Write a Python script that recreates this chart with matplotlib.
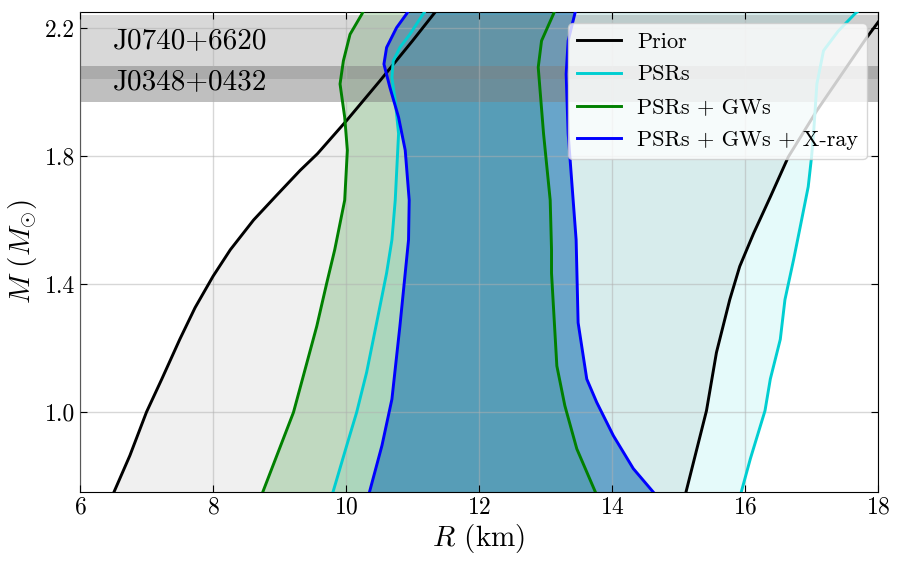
import numpy as np
import matplotlib
matplotlib.use("Agg")
import matplotlib.pyplot as plt

plt.rcParams["font.family"] = "serif"
plt.rcParams["font.serif"] = ["cmr10"]
plt.rcParams["mathtext.fontset"] = "cm"
plt.rcParams["axes.formatter.use_mathtext"] = True
plt.rcParams["axes.unicode_minus"] = False

# --- contours: mass (Msun) vs radius (km) ---
prior_l_m = [0.74, 0.864, 1.0, 1.103, 1.227, 1.326, 1.424, 1.507, 1.60, 1.678, 1.755, 1.807, 1.911, 2.035, 2.16, 2.26]
prior_l_r = [6.49, 6.75, 7.0, 7.23, 7.5, 7.73, 8.0, 8.26, 8.61, 8.96, 9.31, 9.57, 10.01, 10.51, 11.0, 11.38]
prior_r_m = [0.74, 1.004, 1.186, 1.351, 1.455, 1.559, 1.672, 1.797, 1.942, 2.17, 2.26]
prior_r_r = [15.10, 15.42, 15.57, 15.77, 15.92, 16.13, 16.38, 16.65, 17.08, 17.83, 18.15]

psr_l_m = [0.74, 0.895, 0.999, 1.124, 1.33, 1.434, 1.538, 1.662, 1.87, 1.973, 2.045, 2.097, 2.139, 2.18, 2.244, 2.27]
psr_l_r = [9.79, 10.01, 10.16, 10.31, 10.51, 10.61, 10.69, 10.74, 10.79, 10.74, 10.69, 10.71, 10.81, 10.96, 11.16, 11.25]
psr_r_m = [0.74, 0.854, 1.004, 1.103, 1.227, 1.351, 1.476, 1.579, 1.704, 1.797, 1.87, 2.025, 2.129, 2.19, 2.244, 2.27]
psr_r_r = [15.93, 16.08, 16.30, 16.38, 16.53, 16.60, 16.73, 16.83, 16.95, 17.0, 17.03, 17.08, 17.18, 17.4, 17.65, 17.8]

gw_l_m = [0.74, 0.999, 1.268, 1.403, 1.507, 1.662, 1.818, 1.921, 2.025, 2.097, 2.18, 2.244, 2.27]
gw_l_r = [8.73, 9.21, 9.56, 9.71, 9.83, 9.98, 10.02, 9.98, 9.91, 9.96, 10.06, 10.24, 10.3]
gw_r_m = [0.74, 0.885, 1.02, 1.144, 1.434, 1.507, 1.662, 1.87, 2.077, 2.16, 2.244, 2.27]
gw_r_r = [13.77, 13.47, 13.29, 13.17, 13.09, 13.09, 13.07, 12.97, 12.89, 12.94, 13.12, 13.17]

xr_l_m = [0.74, 0.895, 1.04, 1.268, 1.434, 1.538, 1.662, 1.818, 1.921, 2.014, 2.087, 2.139, 2.201, 2.244, 2.27]
xr_l_r = [10.34, 10.54, 10.69, 10.81, 10.89, 10.94, 10.95, 10.89, 10.79, 10.66, 10.57, 10.61, 10.76, 10.91, 10.98]
xr_r_m = [0.74, 0.823, 0.926, 1.03, 1.103, 1.279, 1.538, 1.87, 2.056, 2.16, 2.244, 2.27]
xr_r_r = [14.66, 14.32, 14.02, 13.77, 13.62, 13.49, 13.46, 13.34, 13.31, 13.34, 13.44, 13.47]

# pulsar mass bands
j0740_band = (2.04, 2.24)
j0348_band = (1.97, 2.08)

sets = [
    ("Prior", prior_l_r, prior_l_m, prior_r_r, prior_r_m, "k", "k", 0.06),
    ("PSRs", psr_l_r, psr_l_m, psr_r_r, psr_r_m, "darkturquoise", "darkturquoise", 0.1),
    ("PSRs + GWs", gw_l_r, gw_l_m, gw_r_r, gw_r_m, "green", "green", 0.2),
    ("PSRs + GWs + X-ray", xr_l_r, xr_l_m, xr_r_r, xr_r_m, "blue", "C0", 0.6),
]

fig, ax = plt.subplots(figsize=(8.99, 5.65), dpi=100)
fig.subplots_adjust(left=0.089, right=0.9767, top=0.9788, bottom=0.1292)

for label, lr, lm, rr, rm, lc, fc, a in sets:
    poly_r = np.concatenate([lr, rr[::-1]])
    poly_m = np.concatenate([lm, rm[::-1]])
    ax.fill(poly_r, poly_m, color=fc, alpha=a, lw=0, zorder=1)

ax.axhspan(*j0740_band, color="grey", alpha=0.3, lw=0, zorder=2)
ax.axhspan(*j0348_band, color="grey", alpha=0.5, lw=0, zorder=2)

for label, lr, lm, rr, rm, lc, fc, a in sets:
    ax.plot(lr, lm, color=lc, lw=2.1, label=label, zorder=3)
    ax.plot(rr, rm, color=lc, lw=2.1, zorder=3)

ax.text(6.5, 2.16, "J0740+6620", fontsize=21, va="center", zorder=4)
ax.text(6.5, 2.03, "J0348+0432", fontsize=21, va="center", zorder=4)

ax.set_xlim(6, 18)
ax.set_ylim(0.75, 2.25)
ax.set_xticks([6, 8, 10, 12, 14, 16, 18])
ax.set_yticks([1.0, 1.4, 1.8, 2.2])
ax.set_yticklabels(["1.0", "1.4", "1.8", "2.2"])
ax.tick_params(direction="in", top=True, right=True, labelsize=17, length=5)
ax.grid(True, color="#b0b0b0", alpha=0.5, lw=1, zorder=2.5)
ax.set_axisbelow(False)

ax.set_xlabel(r"$R$ (km)", fontsize=21, labelpad=2)
ax.set_ylabel(r"$M\ (M_{\odot})$", fontsize=21, labelpad=4)

ax.legend(loc="upper right", fontsize=16, framealpha=0.8, labelspacing=0.6,
          handlelength=2.0, handletextpad=0.7)

plt.savefig("out.png", dpi=100)
